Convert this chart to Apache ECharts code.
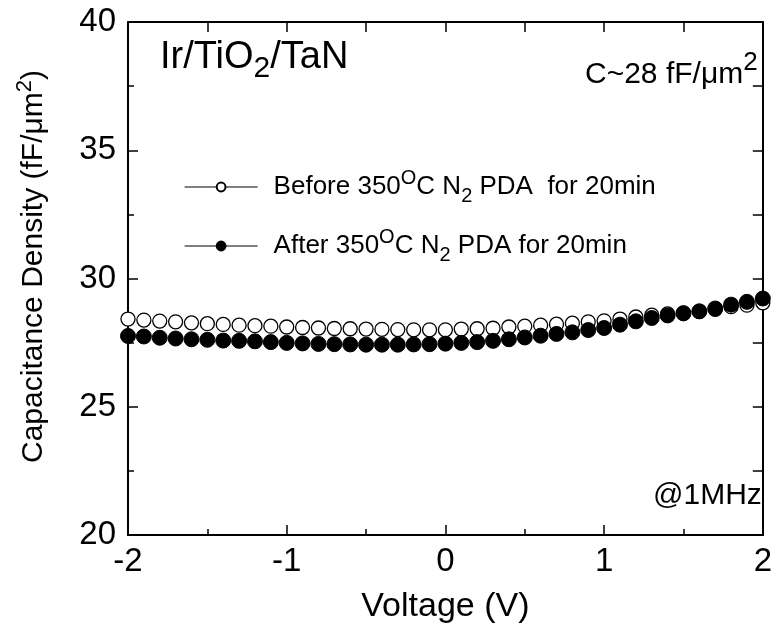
<!DOCTYPE html>
<html>
<head>
<meta charset="utf-8">
<script src="https://cdn.jsdelivr.net/npm/echarts@6/dist/echarts.min.js"></script>
<style>
  html, body { margin: 0; padding: 0; background: #fff; }
  #chart { width: 775px; height: 632px; }
</style>
</head>
<body>
<div id="chart"></div>
<script>
// voltage sweep (V)
var voltage = [-2.0, -1.9, -1.8, -1.7, -1.6, -1.5, -1.4, -1.3, -1.2, -1.1,
  -1.0, -0.9, -0.8, -0.7, -0.6, -0.5, -0.4, -0.3, -0.2, -0.1,
  0.0, 0.1, 0.2, 0.3, 0.4, 0.5, 0.6, 0.7, 0.8, 0.9,
  1.0, 1.1, 1.2, 1.3, 1.4, 1.5, 1.6, 1.7, 1.8, 1.9, 2.0];

// capacitance density (fF/um^2)
var beforePDA = [28.42, 28.38, 28.34, 28.31, 28.27, 28.24, 28.21, 28.18, 28.16, 28.14,
  28.11, 28.09, 28.07, 28.05, 28.04, 28.03, 28.02, 28.01, 28.00, 28.00,
  28.00, 28.03, 28.04, 28.06, 28.11, 28.14, 28.18, 28.22, 28.26, 28.31,
  28.35, 28.42, 28.50, 28.57, 28.62, 28.66, 28.72, 28.80, 28.90, 28.96, 29.05];

var afterPDA = [27.76, 27.74, 27.69, 27.66, 27.63, 27.61, 27.58, 27.57, 27.55, 27.52,
  27.49, 27.47, 27.45, 27.44, 27.43, 27.42, 27.42, 27.42, 27.43, 27.44,
  27.46, 27.49, 27.52, 27.57, 27.63, 27.70, 27.77, 27.84, 27.90, 27.99,
  28.07, 28.20, 28.33, 28.46, 28.56, 28.64, 28.72, 28.83, 28.98, 29.09, 29.22];

var seriesNames = ["Before 350°C N2 PDA  for 20min", "After 350°C N2 PDA for 20min"];
var legendRich = {};
legendRich[seriesNames[0]] = "Before 350{sup|O}C N{sub|2} PDA  for 20min";
legendRich[seriesNames[1]] = "After 350{sup|O}C N{sub|2} PDA for 20min";

function pairs(xs, ys) {
  var out = [];
  for (var i = 0; i < xs.length; i++) out.push([xs[i], ys[i]]);
  return out;
}

var FONT = "'Liberation Sans', Arial, sans-serif";
var chart = echarts.init(document.getElementById("chart"));

var frameLine = { show: true, onZero: false, lineStyle: { color: "#000", width: 2 } };
var tickStyle = { color: "#000", width: 1.5 };

chart.setOption({
  animation: false,
  backgroundColor: "#fff",
  textStyle: { fontFamily: FONT, color: "#000" },
  grid: { left: 128, right: 7, top: 22, bottom: 97 },
  xAxis: [
    {
      type: "value",
      position: "bottom",
      min: -2,
      max: 2,
      interval: 1,
      name: "Voltage (V)",
      nameLocation: "middle",
      nameGap: 55,
      nameTextStyle: { fontSize: 34, fontFamily: FONT, color: "#000" },
      axisLine: frameLine,
      axisTick: { inside: true, length: 10, lineStyle: tickStyle },
      minorTick: { show: true, splitNumber: 2, length: 6, lineStyle: tickStyle },
      axisLabel: { fontSize: 33, fontFamily: FONT, color: "#000", margin: 10 },
      splitLine: { show: false }
    },
    {
      type: "value",
      position: "top",
      min: -2,
      max: 2,
      interval: 1,
      axisLine: frameLine,
      axisTick: { inside: true, length: 10, lineStyle: tickStyle },
      minorTick: { show: true, splitNumber: 2, length: 10, lineStyle: tickStyle },
      axisLabel: { show: false },
      splitLine: { show: false }
    }
  ],
  yAxis: [
    {
      type: "value",
      position: "left",
      min: 20,
      max: 40,
      interval: 5,
      name: "Capacitance Density (fF/μm{sup|2})",
      nameLocation: "middle",
      nameGap: 74,
      nameTextStyle: {
        fontSize: 30, fontFamily: FONT, color: "#000", lineHeight: 40,
        padding: [0, 0, 0, 24],
        rich: {
          sup: { fontSize: 22, fontFamily: FONT, verticalAlign: "top", lineHeight: 40 }
        }
      },
      axisLine: frameLine,
      axisTick: { inside: true, length: 10, lineStyle: tickStyle },
      minorTick: { show: true, splitNumber: 2, length: 6, lineStyle: tickStyle },
      axisLabel: { fontSize: 33, fontFamily: FONT, color: "#000", margin: 12 },
      splitLine: { show: false }
    },
    {
      type: "value",
      position: "right",
      min: 20,
      max: 40,
      interval: 5,
      axisLine: frameLine,
      axisTick: { inside: true, length: 10, lineStyle: tickStyle },
      minorTick: { show: true, splitNumber: 2, length: 10, lineStyle: tickStyle },
      axisLabel: { show: false },
      splitLine: { show: false }
    }
  ],
  legend: {
    orient: "vertical",
    left: 179,
    top: 163,
    itemWidth: 73,
    itemHeight: 11,
    itemGap: 21,
    selectedMode: false,
    data: seriesNames,
    lineStyle: { color: "#000", width: 1.2, opacity: 1 },
    formatter: function (name) { return legendRich[name]; },
    textStyle: {
      fontSize: 26, fontFamily: FONT, color: "#000", lineHeight: 38,
      padding: [0, 0, 0, 11],
      rich: {
        sup: { fontSize: 20, fontFamily: FONT, verticalAlign: "top", lineHeight: 38 },
        sub: { fontSize: 20, fontFamily: FONT, verticalAlign: "bottom", lineHeight: 38 }
      }
    }
  },
  graphic: [
    {
      type: "text",
      left: 160,
      top: 32,
      style: {
        text: "Ir/TiO{sub|2}/TaN",
        font: "38px " + FONT,
        fill: "#000",
        lineHeight: 52,
        rich: { sub: { fontSize: 30, fontFamily: FONT, verticalAlign: "bottom", lineHeight: 52 } }
      }
    },
    {
      type: "text",
      left: 585,
      top: 50,
      style: {
        text: "C~28 fF/μm{sup|2}",
        font: "30px " + FONT,
        fill: "#000",
        lineHeight: 50,
        rich: { sup: { fontSize: 26, fontFamily: FONT, verticalAlign: "top", lineHeight: 50 } }
      }
    },
    {
      type: "text",
      left: 653,
      top: 481,
      style: { text: "@1MHz", font: "30px " + FONT, fill: "#000" }
    }
  ],
  series: [
    {
      name: seriesNames[0],
      type: "line",
      data: pairs(voltage, beforePDA),
      symbol: "circle",
      symbolSize: 14,
      showSymbol: true,
      lineStyle: { width: 0, opacity: 0 },
      itemStyle: { color: "#fff", borderColor: "#000", borderWidth: 1.3 },
      z: 2
    },
    {
      name: seriesNames[1],
      type: "line",
      data: pairs(voltage, afterPDA),
      symbol: "circle",
      symbolSize: 15,
      showSymbol: true,
      lineStyle: { width: 0, opacity: 0 },
      itemStyle: { color: "#000", borderColor: "#000", borderWidth: 1 },
      z: 3
    }
  ]
});
</script>
</body>
</html>
